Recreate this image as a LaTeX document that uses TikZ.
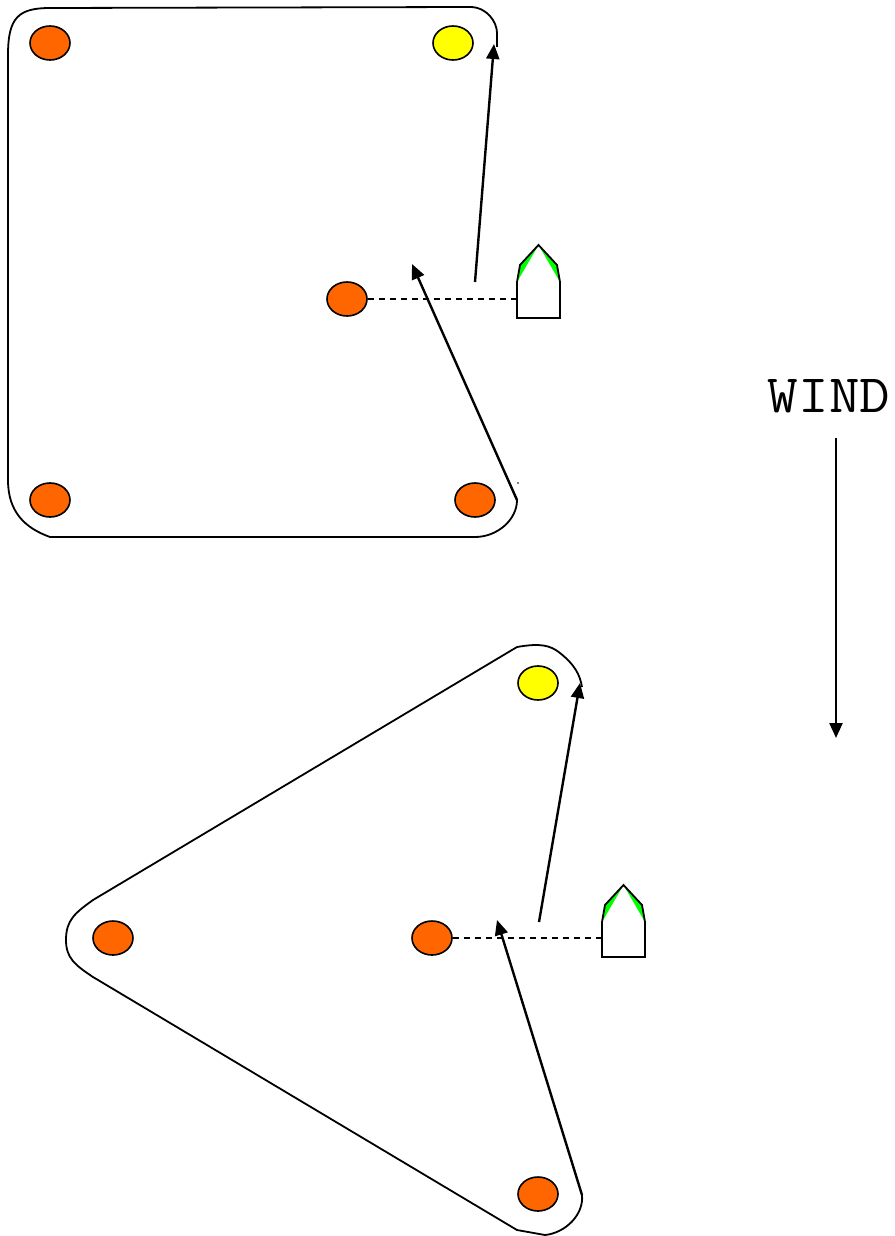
\documentclass[tikz,border=0pt]{standalone}
\usepackage{fontspec}
\usetikzlibrary{arrows.meta,shapes.geometric}
\definecolor{buoyorange}{HTML}{FF6600}
\definecolor{buoyyellow}{HTML}{FFFF00}
\definecolor{sailgreen}{HTML}{00FF00}
\begin{document}
\begin{tikzpicture}[x=1pt,y=-1pt,
  buoy/.style={ellipse,draw=black,line width=1.6pt,minimum width=40pt,minimum height=34pt,inner sep=0pt},
  orangebuoy/.style={buoy,fill=buoyorange},
  yellowbuoy/.style={buoy,fill=buoyyellow},
  course/.style={line width=1.8pt,line join=round},
  leg/.style={line width=2.4pt,-{Triangle[length=15pt,width=13pt]}},
  startline/.style={line width=1.6pt,dash pattern=on 6pt off 5pt},
  hull/.style={draw=black,line width=1.8pt,line join=miter}]
\useasboundingbox (0,0) rectangle (894,1236);

% ---------- top course (square) ----------
\draw[course] (497,47) -- (497,33) .. controls (497,22) and (487,7) .. (470,7)
  -- (50,8) .. controls (18,8) and (8,18) .. (8,55)
  -- (8,480) .. controls (8,512) and (25,528) .. (50,537)
  -- (475,537) .. controls (497,537) and (517,520) .. (517,500);
\fill (518,483) circle (0.9);

\node[orangebuoy] (tl) at (50,43) {};
\node[yellowbuoy] (tr) at (453,43) {};
\node[orangebuoy] (tm) at (347,299) {};
\node[orangebuoy] (bl) at (50,500) {};
\node[orangebuoy] (br) at (475,500) {};

% boat 1
\begin{scope}[shift={(517,282)}]
  \fill[white] (0,36) -- (0,0) -- (3,-17) -- (21.5,-37) -- (40,-17) -- (43,0) -- (43,36) -- cycle;
  \fill[sailgreen] (0,0) -- (3,-17) -- (21.5,-37) -- cycle;
  \fill[sailgreen] (43,0) -- (40,-17) -- (21.5,-37) -- cycle;
  \draw[hull] (0,36) -- (0,0) -- (3,-17) -- (21.5,-37) -- (40,-17) -- (43,0) -- (43,36) -- cycle;
  \coordinate (boat1w) at (0,17);
\end{scope}
\draw[startline] (tm.east) -- (boat1w);

\coordinate (t1s) at (475,282);
\coordinate (t1e) at (494,44);
\coordinate (t2s) at (517,500);
\coordinate (t2e) at (412,264);
\draw[leg] (t1s) -- (t1e);
\draw[leg] (t2s) -- (t2e);

% ---------- wind ----------
\node[inner sep=0pt] (wind) at (829,396) {\scalebox{1.1}[1]{\ttfamily\fontsize{54}{54}\selectfont WIND}};
\coordinate (w1) at (836,438);
\coordinate (w2) at (836,738);
\draw[leg] (w1) -- (w2);

% ---------- bottom course (triangle) ----------
\draw[course] (582,1195) .. controls (584,1215) and (565,1233) .. (545,1235)
  -- (517,1230) -- (93,977) .. controls (75,965) and (66,958) .. (66,940)
  .. controls (66,920) and (75,913) .. (93,900) -- (517,647)
  .. controls (540,643) and (550,645) .. (560,653)
  .. controls (575,665) and (580,675) .. (582,687);

\node[yellowbuoy] (by) at (538,683) {};
\node[orangebuoy] (bw) at (113,938) {};
\node[orangebuoy] (bm) at (432,938) {};
\node[orangebuoy] (bb) at (538,1194) {};

% boat 2
\begin{scope}[shift={(602,922)}]
  \fill[white] (0,35) -- (0,0) -- (3,-17) -- (21.5,-37) -- (40,-17) -- (43,0) -- (43,35) -- cycle;
  \fill[sailgreen] (0,0) -- (3,-17) -- (21.5,-37) -- cycle;
  \fill[sailgreen] (43,0) -- (40,-17) -- (21.5,-37) -- cycle;
  \draw[hull] (0,35) -- (0,0) -- (3,-17) -- (21.5,-37) -- (40,-17) -- (43,0) -- (43,35) -- cycle;
  \coordinate (boat2w) at (0,16);
\end{scope}
\draw[startline] (bm.east) -- (boat2w);

\coordinate (u1s) at (539,922);
\coordinate (u1e) at (580,683);
\coordinate (u2s) at (582,1195);
\coordinate (u2e) at (497,920);
\draw[leg] (u1s) -- (u1e);
\draw[leg] (u2s) -- (u2e);
\end{tikzpicture}
\end{document}
